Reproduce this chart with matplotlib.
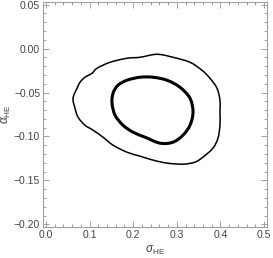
import matplotlib
matplotlib.use("Agg")
import matplotlib.pyplot as plt
import numpy as np
from matplotlib.path import Path
from matplotlib.patches import PathPatch
from matplotlib.ticker import MultipleLocator, FuncFormatter

# Outer (thin) contour
outer_x = [0.3578, 0.3303, 0.2913, 0.2546, 0.2156, 0.1858, 0.1468, 0.117, 0.1055, 0.0894, 0.078,
           0.0711, 0.0619, 0.0665, 0.0734, 0.0894, 0.1078, 0.1307, 0.1537, 0.1858, 0.2156, 0.2454,
           0.2775, 0.3142, 0.3417, 0.3601, 0.383, 0.3945, 0.3991, 0.3991, 0.3991, 0.3922, 0.3761]
outer_y = [-0.0247, -0.0156, -0.0099, -0.0065, -0.0099, -0.011, -0.0156, -0.0224, -0.0281, -0.0326,
           -0.0383, -0.0451, -0.0565, -0.0679, -0.0781, -0.0872, -0.0928, -0.1008, -0.1099, -0.1179,
           -0.1224, -0.1269, -0.1303, -0.1315, -0.1292, -0.1235, -0.1133, -0.1019, -0.0872, -0.0724,
           -0.0588, -0.0451, -0.0338]

# Inner (thick) contour
inner_x = [0.2775, 0.2454, 0.2156, 0.1858, 0.1651, 0.1537, 0.1514, 0.1583, 0.1766, 0.1995, 0.2271,
           0.2615, 0.2913, 0.3142, 0.3303, 0.3372, 0.3303, 0.3073]
inner_y = [-0.036, -0.0326, -0.0326, -0.036, -0.0417, -0.0508, -0.0622, -0.0758, -0.0872, -0.0951,
           -0.1008, -0.1076, -0.1065, -0.0985, -0.0872, -0.0724, -0.0565, -0.044]

x_ticks = [0.0, 0.1, 0.2, 0.3, 0.4, 0.5]
y_ticks = [-0.20, -0.15, -0.10, -0.05, 0.00, 0.05]

plt.rcParams['font.family'] = ['Liberation Sans', 'DejaVu Sans']
plt.rcParams['mathtext.fontset'] = 'custom'
plt.rcParams['mathtext.rm'] = 'Liberation Sans'
plt.rcParams['mathtext.it'] = 'Liberation Sans:italic'


def closed_smooth_path(xs, ys):
    """Closed curve through the given points using cubic Bezier segments (Catmull-Rom tangents)."""
    p = np.column_stack([xs, ys])
    n = len(p)
    verts = [p[0]]
    codes = [Path.MOVETO]
    for i in range(n):
        p0, p1, p2, p3 = p[i - 1], p[i], p[(i + 1) % n], p[(i + 2) % n]
        c1 = p1 + (p2 - p0) / 6.0
        c2 = p2 - (p3 - p1) / 6.0
        verts += [c1, c2, p2]
        codes += [Path.CURVE4] * 3
    return Path(verts, codes)


fig = plt.figure(figsize=(2.73, 2.58), dpi=100)
ax = fig.add_axes([43/273, 31/258, 224/273, 225/258])

ax.add_patch(PathPatch(closed_smooth_path(outer_x, outer_y), facecolor='none',
                       edgecolor='black', lw=1.1, joinstyle='round'))
ax.add_patch(PathPatch(closed_smooth_path(inner_x, inner_y), facecolor='none',
                       edgecolor='black', lw=2.2, joinstyle='round'))

ax.set_xlim(-0.007, 0.507)
ax.set_ylim(-0.203, 0.053)

ax.set_xticks(x_ticks)
ax.set_yticks(y_ticks)
ax.xaxis.set_minor_locator(MultipleLocator(0.02))
ax.yaxis.set_minor_locator(MultipleLocator(0.01))
ax.xaxis.set_major_formatter(FuncFormatter(lambda v, p: f"{v:.1f}".replace('-', '\u2212')))
ax.yaxis.set_major_formatter(FuncFormatter(lambda v, p: ("\u2212" if v < -1e-9 else "") + f"{abs(v):.2f}"))

gray = '#a0a0a0'
for s in ax.spines.values():
    s.set_color(gray)
    s.set_linewidth(0.8)
ax.tick_params(which='both', direction='in', top=True, right=True, color=gray,
               labelsize=7.5, labelcolor='#444444', width=0.7)
ax.tick_params(which='major', length=4, pad=2)
ax.tick_params(which='minor', length=2)

ax.set_xlabel(r'$\sigma_{\mathrm{HE}}$', fontsize=8.5, color='#444444', labelpad=3)
ax.set_ylabel(r'$\alpha_{\mathrm{HE}}$', fontsize=8.5, color='#444444')
ax.yaxis.set_label_coords(-0.135, 0.5)

fig.savefig('out.png', dpi=100)
